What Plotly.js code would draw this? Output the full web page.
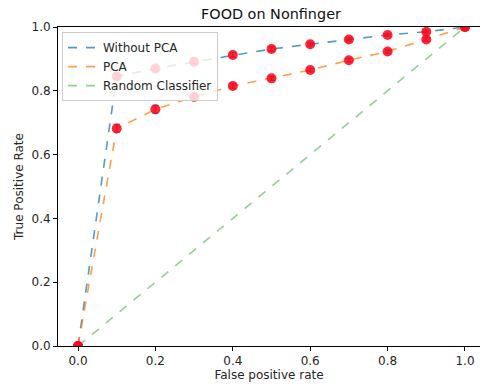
<!DOCTYPE html>
<html>
<head>
<meta charset="utf-8">
<script src="https://cdn.plot.ly/plotly-3.0.1.min.js"></script>
<style>html,body{margin:0;padding:0;background:#fff;}#chart{width:480px;height:385px;}</style>
</head>
<body>
<div id="chart"></div>
<script>
const fpr = [0, 0.1, 0.2, 0.3, 0.4, 0.5, 0.6, 0.7, 0.8, 0.9, 1.0];
const tprNoPCA = [0, 0.845, 0.870, 0.891, 0.912, 0.931, 0.946, 0.961, 0.975, 0.985, 1.0];
const errNoPCA = [0, 0.008, 0.008, 0.007, 0.007, 0.006, 0.005, 0.005, 0.004, 0.004, 0];
const tprPCA = [0, 0.682, 0.742, 0.781, 0.815, 0.839, 0.865, 0.896, 0.923, 0.961, 1.0];
const errPCA = [0, 0.012, 0.012, 0.008, 0.007, 0.006, 0.005, 0.005, 0.005, 0.005, 0];
const randomX = [0, 1];
const randomY = [0, 1];
const tickVals = [0, 0.2, 0.4, 0.6, 0.8, 1.0];
const tickText = ['0.0', '0.2', '0.4', '0.6', '0.8', '1.0'];

const font = 'DejaVu Sans, sans-serif';
const traces = [
  {x: fpr, y: tprNoPCA, mode: 'lines', name: 'Without PCA',
   line: {color: 'rgba(31,119,180,0.75)', dash: 'dash', width: 1.6}},
  {x: fpr, y: tprPCA, mode: 'lines', name: 'PCA',
   line: {color: 'rgba(255,127,14,0.75)', dash: 'dash', width: 1.6}},
  {x: randomX, y: randomY, mode: 'lines', name: 'Random Classifier',
   line: {color: 'rgba(44,160,44,0.5)', dash: 'dash', width: 1.6}},
  {x: fpr, y: tprNoPCA, mode: 'markers', showlegend: false,
   marker: {color: 'rgba(255,0,20,0.85)', size: 10},
   error_y: {type: 'data', array: errNoPCA, color: 'rgba(31,119,180,0.8)', thickness: 1.5, width: 3}},
  {x: fpr, y: tprPCA, mode: 'markers', showlegend: false,
   marker: {color: 'rgba(255,0,20,0.85)', size: 10},
   error_y: {type: 'data', array: errPCA, color: 'rgba(31,119,180,0.8)', thickness: 1.5, width: 3}}
];

const layout = {
  width: 480, height: 385,
  margin: {l: 58, r: 0, t: 27, b: 39, pad: 0},
  paper_bgcolor: '#fff', plot_bgcolor: '#fff',
  font: {family: font, size: 12, color: '#262626'},
  title: {text: 'FOOD on Nonfinger', font: {family: font, size: 14.4, color: '#111'},
          xref: 'paper', x: 0.5047, xanchor: 'center', yref: 'container', y: 0.965, yanchor: 'middle'},
  showlegend: true,
  legend: {x: 0.0095, y: 0.984, xanchor: 'left', yanchor: 'top', itemwidth: 30,
           bgcolor: 'rgba(255,255,255,0.8)', bordercolor: '#cccccc', borderwidth: 1,
           font: {family: font, size: 12, color: '#262626'}, tracegroupgap: 0},
  xaxis: {range: [-0.0517, 1.0388], tickvals: tickVals, ticktext: tickText,
          ticks: 'outside', ticklen: 4, tickcolor: '#000', tickwidth: 1,
          showline: true, linecolor: '#000', linewidth: 1, mirror: true,
          showgrid: false, zeroline: false,
          tickfont: {family: font, size: 12, color: '#262626'},
          title: {text: 'False positive rate', font: {family: font, size: 12, color: '#262626'}, standoff: 3}},
  yaxis: {range: [0, 1], tickvals: tickVals, ticktext: tickText,
          ticks: 'outside', ticklen: 4, tickcolor: '#000', tickwidth: 1,
          showline: true, linecolor: '#000', linewidth: 1, mirror: false,
          showgrid: false, zeroline: false,
          tickfont: {family: font, size: 12, color: '#262626'},
          title: {text: 'True Positive Rate', font: {family: font, size: 12, color: '#262626'}, standoff: 5}}
};

Plotly.newPlot('chart', traces, layout, {displayModeBar: false, staticPlot: true});
</script>
</body>
</html>
